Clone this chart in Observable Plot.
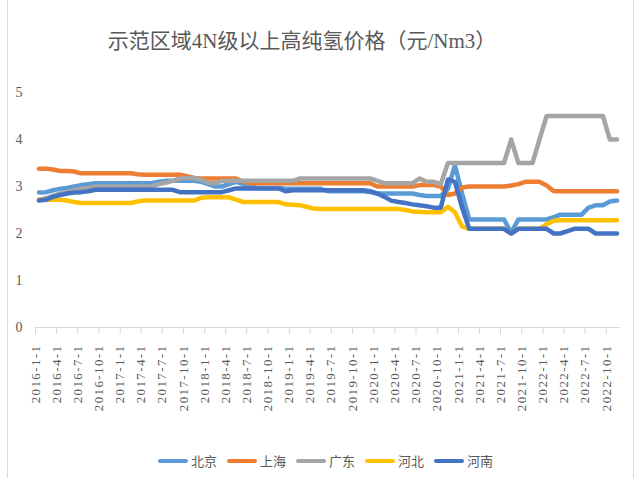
<!DOCTYPE html>
<html>
<head>
<meta charset="utf-8">
<script src="https://cdn.jsdelivr.net/npm/d3@7"></script>
<script src="https://cdn.jsdelivr.net/npm/@observablehq/plot@0.6"></script>
<style>
  body { margin: 0; background: #fff; }
  #wrap { position: relative; width: 638px; height: 479px; overflow: hidden; background: #fff; }
  #frame { position: absolute; left: 7px; top: 0; width: 627px; height: 478px; border-left: 1px solid #d9d9d9; border-right: 1px solid #d9d9d9; box-sizing: border-box; }
  #title { position: absolute; top: 28px; left: 0; width: 604px; text-align: center; font-size: 21px; font-family: "Liberation Serif", "Noto Sans CJK SC", serif; color: #595959; line-height: 27px; }
  #chart { position: absolute; left: 0; top: 0; }
  #legend { position: absolute; top: 451px; left: 158px; display: flex; gap: 10px; font-size: 13px; font-family: "Noto Sans CJK SC", sans-serif; color: #595959; line-height: 20px; }
  .item { display: flex; align-items: center; }
  .sw { width: 30px; height: 4px; border-radius: 2px; margin-right: 3px; }
  g[aria-label="x-axis tick label"] text { letter-spacing: 1.4px; }
</style>
</head>
<body>
<div id="wrap">
  <div id="frame"></div>
  <div id="title"></div>
  <div id="chart"></div>
  <div id="legend"></div>
</div>
<script>
const titleText = "示范区域4N级以上高纯氢价格（元/Nm3）";
const seriesNames = ["北京", "上海", "广东", "河北", "河南"];
const seriesColors = ["#5B9BD5", "#ED7D31", "#A5A5A5", "#FFC000", "#4472C4"];
const startYear = 2016, startMonth = 1, monthCount = 83;
const xTickLabels = ["2016-1-1","2016-4-1","2016-7-1","2016-10-1","2017-1-1","2017-4-1","2017-7-1","2017-10-1",
  "2018-1-1","2018-4-1","2018-7-1","2018-10-1","2019-1-1","2019-4-1","2019-7-1","2019-10-1",
  "2020-1-1","2020-4-1","2020-7-1","2020-10-1","2021-1-1","2021-4-1","2021-7-1","2021-10-1",
  "2022-1-1","2022-4-1","2022-7-1","2022-10-1"];
const yTicks = [0, 1, 2, 3, 4, 5];

const beijing = [2.87,2.88,2.92,2.95,2.97,3.0,3.03,3.05,3.07,3.07,3.07,3.07,3.07,3.07,3.07,3.07,3.07,3.1,3.12,3.12,
  3.12,3.12,3.12,3.1,3.05,3.0,3.0,3.05,3.1,3.05,3.0,2.97,2.97,2.97,2.97,2.95,2.95,2.95,2.95,2.95,
  2.95,2.9,2.9,2.9,2.9,2.9,2.9,2.88,2.85,2.85,2.85,2.85,2.85,2.85,2.82,2.8,2.8,2.8,2.95,3.45,
  2.85,2.3,2.3,2.3,2.3,2.3,2.3,2.02,2.3,2.3,2.3,2.3,2.3,2.35,2.4,2.4,2.4,2.4,2.55,2.6,
  2.6,2.68,2.7];
const shanghai = [3.38,3.38,3.36,3.33,3.33,3.32,3.28,3.28,3.28,3.28,3.28,3.28,3.28,3.28,3.26,3.25,3.25,3.25,3.25,3.25,
  3.25,3.22,3.18,3.17,3.17,3.17,3.17,3.17,3.17,3.1,3.07,3.07,3.07,3.07,3.07,3.07,3.07,3.07,3.07,3.07,
  3.07,3.07,3.07,3.07,3.07,3.07,3.07,3.07,3.0,3.0,3.0,3.0,3.0,3.0,3.03,3.03,3.03,3.0,2.82,2.85,
  2.98,3.0,3.0,3.0,3.0,3.0,3.0,3.02,3.05,3.1,3.1,3.1,3.02,2.9,2.9,2.9,2.9,2.9,2.9,2.9,
  2.9,2.9,2.9];
const guangdong = [2.72,2.75,2.8,2.85,2.88,2.92,2.95,2.97,3.0,3.0,3.0,3.0,3.0,3.0,3.0,3.0,3.0,3.05,3.08,3.12,
  3.17,3.18,3.18,3.15,3.08,3.07,3.12,3.12,3.12,3.12,3.12,3.12,3.12,3.12,3.12,3.12,3.12,3.17,3.17,3.17,
  3.17,3.17,3.17,3.17,3.17,3.17,3.17,3.17,3.12,3.07,3.07,3.07,3.07,3.07,3.17,3.1,3.1,3.05,3.5,3.5,
  3.5,3.5,3.5,3.5,3.5,3.5,3.5,4.0,3.5,3.5,3.5,4.0,4.5,4.5,4.5,4.5,4.5,4.5,4.5,4.5,
  4.5,4.0,4.0];
const hebei = [2.72,2.72,2.72,2.72,2.7,2.67,2.65,2.65,2.65,2.65,2.65,2.65,2.65,2.65,2.68,2.7,2.7,2.7,2.7,2.7,
  2.7,2.7,2.7,2.76,2.77,2.77,2.77,2.77,2.72,2.67,2.67,2.67,2.67,2.67,2.67,2.62,2.61,2.6,2.57,2.53,
  2.52,2.52,2.52,2.52,2.52,2.52,2.52,2.52,2.52,2.52,2.52,2.52,2.5,2.47,2.46,2.45,2.45,2.45,2.57,2.45,
  2.15,2.1,2.1,2.1,2.1,2.1,2.1,2.0,2.1,2.1,2.1,2.1,2.2,2.27,2.28,2.28,2.28,2.28,2.28,2.28,
  2.28,2.28,2.28];
const henan = [2.7,2.72,2.78,2.82,2.85,2.87,2.88,2.9,2.93,2.93,2.93,2.93,2.93,2.93,2.93,2.93,2.93,2.93,2.93,2.93,
  2.88,2.88,2.88,2.88,2.88,2.88,2.88,2.92,2.96,2.96,2.96,2.96,2.96,2.96,2.96,2.9,2.92,2.92,2.92,2.92,
  2.92,2.92,2.92,2.92,2.92,2.92,2.92,2.9,2.85,2.78,2.7,2.67,2.65,2.62,2.6,2.58,2.55,2.55,3.15,3.1,
  2.55,2.1,2.1,2.1,2.1,2.1,2.1,2.0,2.1,2.1,2.1,2.1,2.1,2.0,2.0,2.05,2.1,2.1,2.1,2.0,
  2.0,2.0,2.0];
const seriesValues = [beijing, shanghai, guangdong, hebei, henan];

// monthly categories (points sit mid-month, between tick marks)
const months = [];
for (let i = 0; i < monthCount; i++) months.push(new Date(Date.UTC(startYear, startMonth - 1 + i, 16)));

const parseLabel = s => { const [y, m, d] = s.split("-").map(Number); return new Date(Date.UTC(y, m - 1, d)); };
const tickDates = xTickLabels.map(parseLabel);
const labelByTime = new Map(tickDates.map((d, i) => [+d, xTickLabels[i]]));

document.getElementById("title").textContent = titleText;

const lineMarks = seriesNames.map((name, si) =>
  Plot.line(months.map((d, i) => ({date: d, value: seriesValues[si][i], series: name})), {
    x: "date", y: "value", stroke: seriesColors[si], strokeWidth: 4.5,
    strokeLinejoin: "round", strokeLinecap: "round"
  })
);

const chart = Plot.plot({
  width: 638,
  height: 440,
  marginLeft: 35,
  marginRight: 18,
  marginTop: 92,
  marginBottom: 113,
  style: {background: "transparent", overflow: "visible"},
  x: {type: "utc", domain: [new Date(Date.UTC(2016, 0, 1)), new Date(Date.UTC(2022, 11, 1))], label: null},
  y: {domain: [0, 5], label: null},
  marks: [
    Plot.ruleY([0], {stroke: "#d9d9d9", strokeWidth: 1}),
    Plot.axisX({ticks: tickDates, tickFormat: d => labelByTime.get(+d), tickRotate: -90,
      tickSize: 7, tickPadding: 10, stroke: "#d9d9d9", fill: "#595959", label: null,
      fontSize: 13, fontFamily: "Liberation Serif"}),
    Plot.axisY({ticks: yTicks, tickFormat: d => String(d), tickSize: 0, tickPadding: 13, fill: "#595959",
      label: null, fontSize: 14, fontFamily: "Liberation Serif"}),
    ...lineMarks
  ]
});
document.getElementById("chart").appendChild(chart);

const legend = document.getElementById("legend");
seriesNames.forEach((name, i) => {
  const item = document.createElement("div");
  item.className = "item";
  const sw = document.createElement("span");
  sw.className = "sw";
  sw.style.background = seriesColors[i];
  const tx = document.createElement("span");
  tx.textContent = name;
  item.appendChild(sw);
  item.appendChild(tx);
  legend.appendChild(item);
});
</script>
</body>
</html>
